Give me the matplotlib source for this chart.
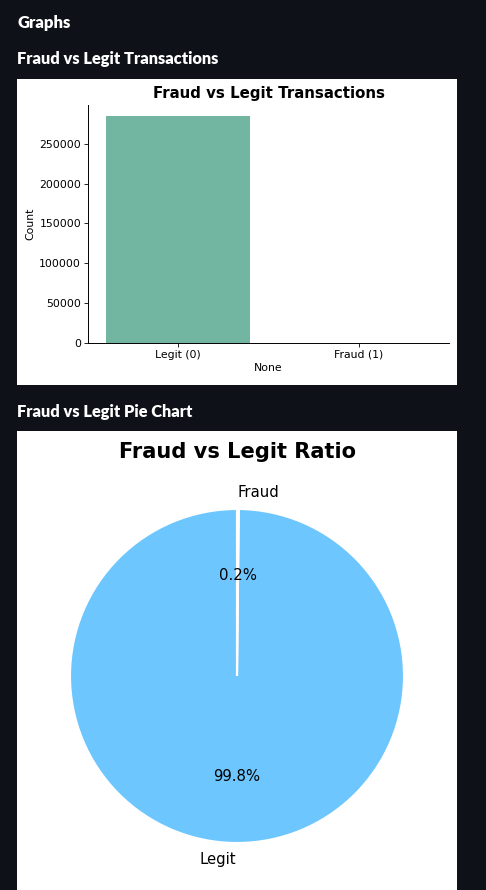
import matplotlib
matplotlib.use("Agg")
import matplotlib.pyplot as plt
from matplotlib.patches import Rectangle

plt.rcParams['font.family'] = ['DejaVu Sans']

# data
bar_labels = ['Legit (0)', 'Fraud (1)']
bar_counts = [284315, 492]
bar_colors = ['#72b6a1', '#e19a7e']

pie_labels = ['Legit', 'Fraud']
pie_counts = [284315, 492]
pie_colors = ['#6ec6ff', '#ff9999']

W, H = 486, 890
BG = '#0e1117'


def fx(px):
    return px / W


def fy(py):
    return 1 - py / H


fig = plt.figure(figsize=(W / 100, H / 100), dpi=100, facecolor=BG)

# streamlit-ish headers
hdr = dict(color='white', fontweight='heavy', family='Lato', va='baseline', ha='left')
fig.text(fx(17), fy(28), 'Graphs', fontsize=12, **hdr)
fig.text(fx(17), fy(64), 'Fraud vs Legit Transactions', fontsize=11.8, **hdr)
fig.text(fx(17), fy(417), 'Fraud vs Legit Pie Chart', fontsize=11.8, **hdr)

# white image panels (behind the axes)
fig.patches.append(Rectangle((fx(17), fy(385)), fx(440), (385 - 79) / H,
                             transform=fig.transFigure, facecolor='white', zorder=-5))
fig.patches.append(Rectangle((fx(17), fy(890)), fx(440), (890 - 431) / H,
                             transform=fig.transFigure, facecolor='white', zorder=-5))

# bar chart
ax1 = fig.add_axes([fx(88), fy(343), fx(449 - 88), (343 - 105) / H])
ax1.patch.set_alpha(0)
ax1.bar(range(len(bar_counts)), bar_counts, width=0.8, color=bar_colors)
ax1.set_xticks(range(len(bar_labels)))
ax1.set_xticklabels(bar_labels)
ax1.set_xlim(-0.5, 1.5)
ax1.set_title('Fraud vs Legit Transactions', fontsize=10.8, fontweight='bold', pad=5)
ax1.set_xlabel('None', fontsize=7.8, labelpad=2)
ax1.set_ylabel('Count', fontsize=7.8, labelpad=3)
ax1.tick_params(labelsize=7.8, length=3, width=0.6, pad=2)
for s in ['top', 'right']:
    ax1.spines[s].set_visible(False)
for s in ['left', 'bottom']:
    ax1.spines[s].set_linewidth(0.7)

# pie chart
r = 167
cx, cy = 237, 676
side = 2.5 * r
ax2 = fig.add_axes([fx(cx - side / 2), fy(cy + side / 2), fx(side), side / H])
ax2.patch.set_alpha(0)
ax2.pie(pie_counts, labels=pie_labels, colors=pie_colors, autopct='%1.1f%%',
        startangle=90, wedgeprops={'edgecolor': 'white', 'linewidth': 1.5},
        textprops={'fontsize': 10.7})
ax2.set_aspect('equal')
fig.text(fx(237), fy(458), 'Fraud vs Legit Ratio', fontsize=15.1, fontweight='bold',
         ha='center', va='baseline')

fig.savefig('out.png', dpi=100, facecolor=BG)
